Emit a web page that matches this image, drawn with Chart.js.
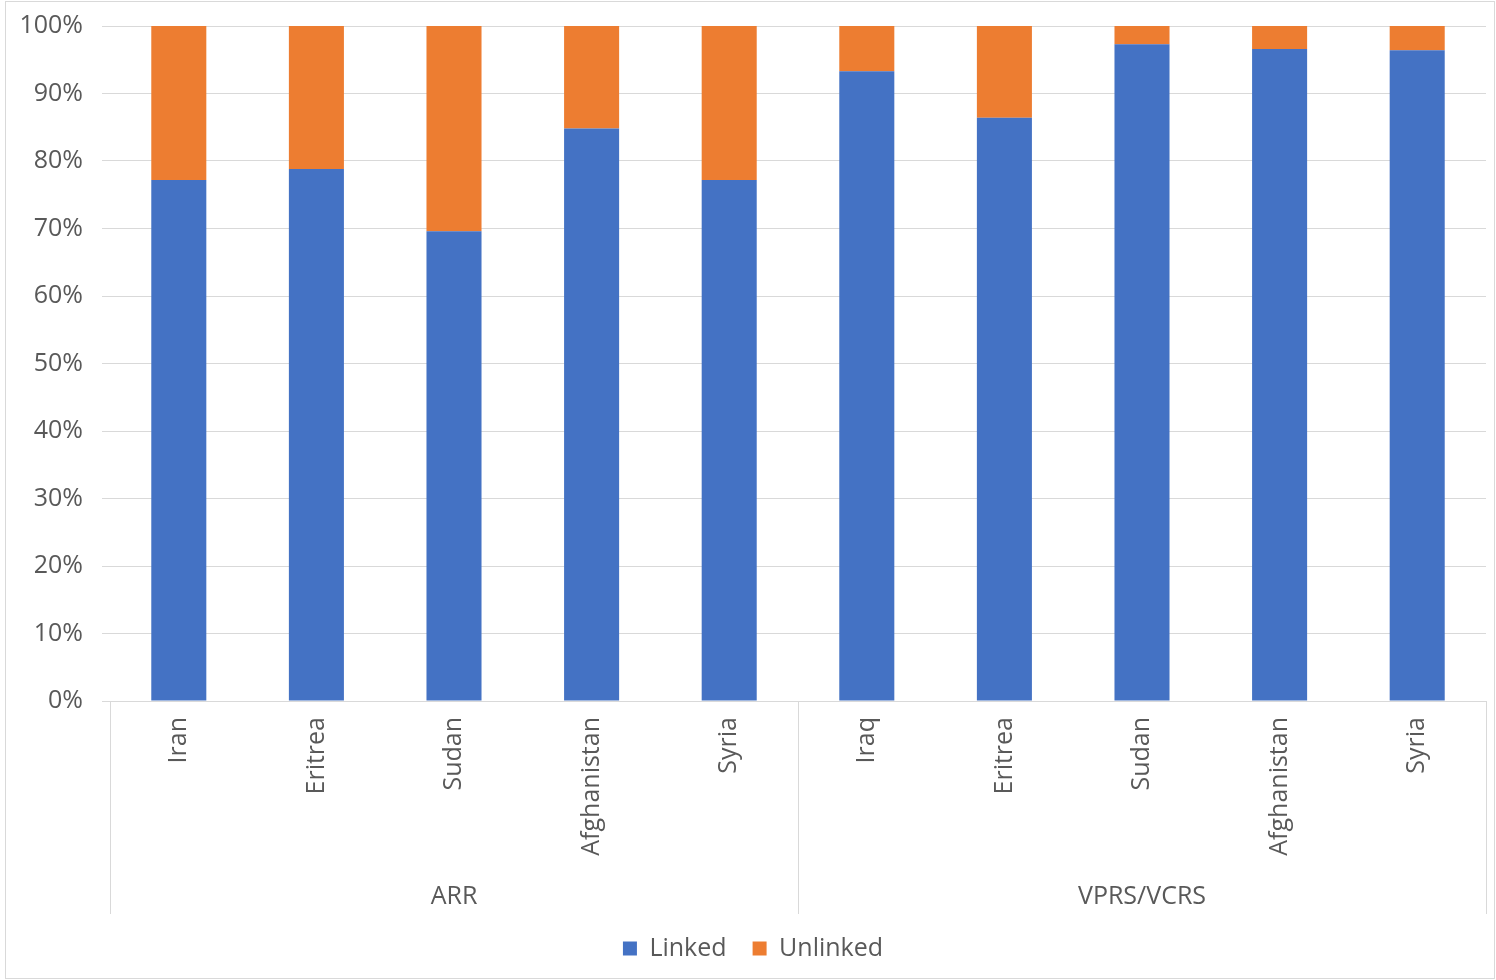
<!DOCTYPE html>
<html>
<head>
<meta charset="utf-8">
<script src="https://cdn.jsdelivr.net/npm/chart.js@4"></script>
<style>
  html, body { margin: 0; padding: 0; background: #fff; }
  #wrap { position: absolute; left: 5px; top: 1px; width: 1490px; height: 978px; border: 1px solid #d9d9d9; box-sizing: border-box; }
  canvas { display: block; }
</style>
</head>
<body>
<div id="wrap"><canvas id="chart"></canvas></div>
<script>
/* 100% stacked bars: linked vs unlinked, grouped by scheme */

const countries = ['Iran', 'Eritrea', 'Sudan', 'Afghanistan', 'Syria', 'Iraq', 'Eritrea', 'Sudan', 'Afghanistan', 'Syria'];
const groups = ['ARR', 'VPRS/VCRS'];
const groupSizes = [5, 5];
const linked = [77.2, 78.8, 69.6, 84.8, 77.2, 93.3, 86.4, 97.3, 96.6, 96.4];
const unlinked = linked.map(v => +(100 - v).toFixed(1));

const BLUE = '#4472C4';
const ORANGE = '#ED7D31';
const TEXT = '#595959';
const GRID = '#d9d9d9';
const FONT = "'Open Sans', 'DejaVu Sans', sans-serif";
const SIZE = 25;

// second row of category labels (ARR / VPRS/VCRS) plus the group dividers
const groupAxis = {
  id: 'groupAxis',
  afterDraw(chart) {
    const { ctx, chartArea } = chart;
    const x = chart.scales.x;
    const step = (chartArea.right - chartArea.left) / countries.length;
    const lineBottom = x.bottom + 4;
    ctx.save();
    ctx.strokeStyle = GRID;
    ctx.lineWidth = 1;
    ctx.fillStyle = TEXT;
    ctx.font = `${SIZE}px ${FONT}`;
    ctx.textAlign = 'center';
    ctx.textBaseline = 'middle';
    let start = 0;
    groups.forEach((g, gi) => {
      const end = start + groupSizes[gi] - 1;
      const left = x.getPixelForValue(start) - step / 2;
      const right = x.getPixelForValue(end) + step / 2;
      [left, right].forEach(px => {
        ctx.beginPath();
        ctx.moveTo(Math.round(px) + 0.5, chartArea.bottom);
        ctx.lineTo(Math.round(px) + 0.5, lineBottom);
        ctx.stroke();
      });
      ctx.fillText(g, (left + right) / 2, lineBottom - 17);
      start = end + 1;
    });
    ctx.restore();
  },
};

const canvas = document.getElementById('chart');
canvas.width = 1488;
canvas.height = 976;

new Chart(canvas.getContext('2d'), {
  type: 'bar',
  data: {
    labels: countries,
    datasets: [
      { label: 'Linked', data: linked, backgroundColor: BLUE, barPercentage: 0.8, categoryPercentage: 0.5 },
      { label: 'Unlinked', data: unlinked, backgroundColor: ORANGE, barPercentage: 0.8, categoryPercentage: 0.5 },
    ],
  },
  options: {
    responsive: false,
    animation: false,
    layout: { padding: { top: 16, left: 14, right: 8, bottom: 7 } },
    plugins: {
      legend: {
        position: 'bottom',
        labels: { color: TEXT, font: { family: FONT, size: SIZE }, boxWidth: 14, boxHeight: 14, padding: 26 },
      },
      tooltip: { enabled: false },
    },
    scales: {
      x: {
        stacked: true,
        grid: { display: false },
        border: { display: true, color: GRID },
        ticks: { color: TEXT, font: { family: FONT, size: SIZE }, minRotation: 90, maxRotation: 90, padding: 8, autoSkip: false },
        afterFit: s => { s.height = 209; },
      },
      y: {
        stacked: true,
        min: 0,
        max: 100,
        grid: { color: GRID },
        border: { display: false },
        ticks: { stepSize: 10, color: TEXT, font: { family: FONT, size: SIZE, lineHeight: 0.4 }, padding: 19, callback: v => v + '%' },
        afterFit: s => { s.width = 90; },
      },
    },
  },
  plugins: [groupAxis],
});
</script>
</body>
</html>
